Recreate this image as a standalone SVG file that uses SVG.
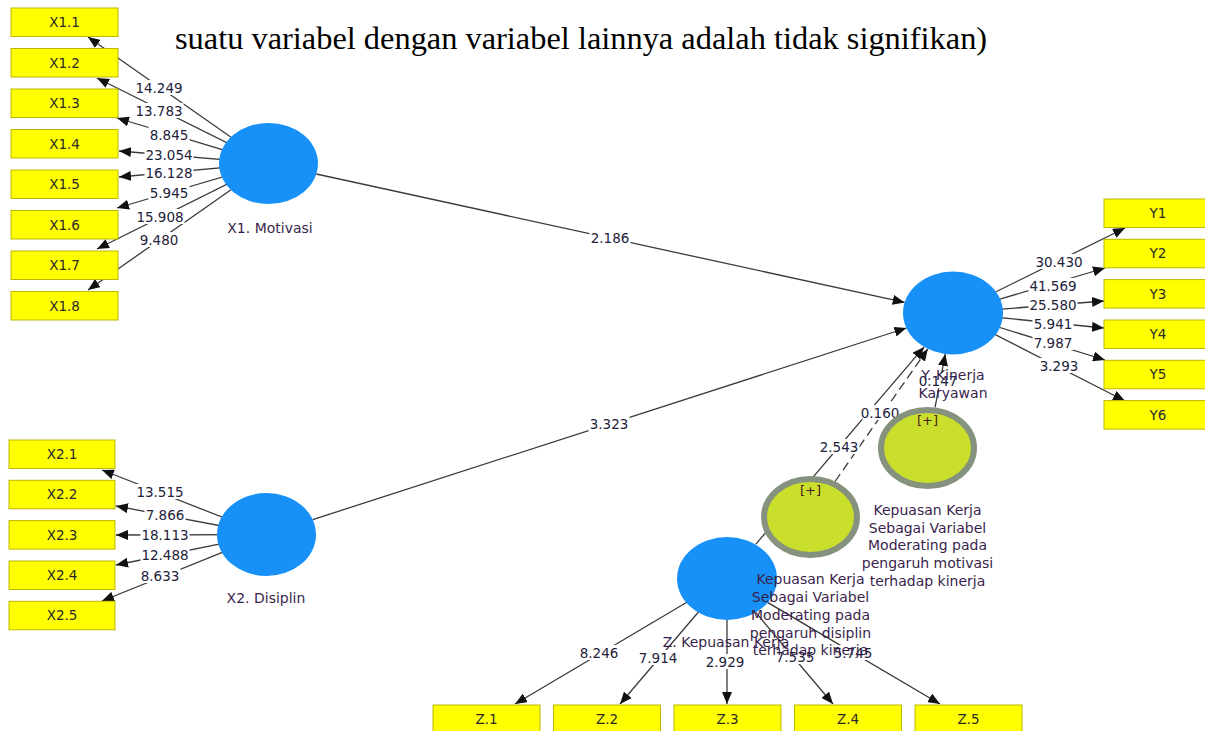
<svg xmlns="http://www.w3.org/2000/svg" width="1205" height="731" viewBox="0 0 1205 731">
<defs>
<marker id="arr" viewBox="0 0 12 10" refX="12" refY="5" markerWidth="12" markerHeight="10" markerUnits="userSpaceOnUse" orient="auto">
<path d="M0,0 L12,5 L0,10 z" fill="#111"/>
</marker>
</defs>
<style>
.bg{fill:#ffffff}
.nb{fill:#ffffff;height:15px}
.ln{stroke:#3a3a3a;stroke-width:1.3;fill:none;marker-end:url(#arr)}
.dash{stroke-dasharray:9,5}
.num{font-family:"DejaVu Sans",sans-serif;font-size:13.5px;fill:#22223a;text-anchor:middle}
.box{fill:#ffff00;stroke:#bdb700;stroke-width:1}
.bt{font-family:"DejaVu Sans",sans-serif;font-size:13.5px;fill:#2a2a2a;text-anchor:middle}
.lat{fill:#1790f7}
.mod{fill:#cadf2b;stroke:#85927e;stroke-width:6}
.lbl{font-family:"DejaVu Sans",sans-serif;font-size:14px;fill:#3a1f4c;text-anchor:middle}
.plus{font-family:"DejaVu Sans",sans-serif;font-size:13px;fill:#4a1a1a;text-anchor:middle}
.title{font-family:"Liberation Serif","Times New Roman",serif;font-size:32.4px;fill:#000}
</style>
<rect class="bg" x="0" y="0" width="1205" height="731"/>
<text class="title" x="175" y="49">suatu variabel dengan variabel lainnya adalah tidak signifikan)</text>

<g id="connectors">
<line class="ln" x1="268.5" y1="163.5" x2="88" y2="37"/>
<line class="ln" x1="268.5" y1="163.5" x2="97" y2="78"/>
<line class="ln" x1="268.5" y1="163.5" x2="117" y2="118"/>
<line class="ln" x1="268.5" y1="163.5" x2="119" y2="151"/>
<line class="ln" x1="268.5" y1="163.5" x2="119" y2="177"/>
<line class="ln" x1="268.5" y1="163.5" x2="117" y2="208"/>
<line class="ln" x1="268.5" y1="163.5" x2="97" y2="249"/>
<line class="ln" x1="268.5" y1="163.5" x2="88" y2="290"/>
<line class="ln" x1="266.5" y1="534.5" x2="102" y2="470"/>
<line class="ln" x1="266.5" y1="534.5" x2="116" y2="506"/>
<line class="ln" x1="266.5" y1="534.5" x2="116" y2="535"/>
<line class="ln" x1="266.5" y1="534.5" x2="116" y2="565"/>
<line class="ln" x1="266.5" y1="534.5" x2="102" y2="601"/>
<line class="ln" x1="953" y1="313" x2="1125" y2="228"/>
<line class="ln" x1="953" y1="313" x2="1105" y2="268"/>
<line class="ln" x1="953" y1="313" x2="1104" y2="301"/>
<line class="ln" x1="953" y1="313" x2="1104" y2="328"/>
<line class="ln" x1="953" y1="313" x2="1105" y2="360"/>
<line class="ln" x1="953" y1="313" x2="1125" y2="401"/>
<line class="ln" x1="727" y1="578.5" x2="515" y2="704"/>
<line class="ln" x1="727" y1="578.5" x2="620" y2="704"/>
<line class="ln" x1="727" y1="578.5" x2="727" y2="704"/>
<line class="ln" x1="727" y1="578.5" x2="833" y2="704"/>
<line class="ln" x1="727" y1="578.5" x2="940" y2="704"/>
<line class="ln" x1="316.3" y1="174" x2="904.7" y2="302.4"/>
<line class="ln" x1="312.7" y1="519.6" x2="906.4" y2="328"/>
<line class="ln" x1="755.9" y1="544.1" x2="924.1" y2="346.9"/>
<line class="ln dash" x1="835" y1="481.5" x2="927.8" y2="348.9"/>
<line class="ln" x1="935" y1="407.5" x2="945.3" y2="354"/>

<rect class="nb" x="134.5" y="80" width="49" height="15"/><text class="num" x="159" y="93">14.249</text>
<rect class="nb" x="134.5" y="103" width="49" height="15"/><text class="num" x="159" y="116">13.783</text>
<rect class="nb" x="148.5" y="127" width="41" height="15"/><text class="num" x="169" y="140">8.845</text>
<rect class="nb" x="144.5" y="147" width="49" height="15"/><text class="num" x="169" y="160">23.054</text>
<rect class="nb" x="144.5" y="165" width="49" height="15"/><text class="num" x="169" y="178">16.128</text>
<rect class="nb" x="148.5" y="185" width="41" height="15"/><text class="num" x="169" y="198">5.945</text>
<rect class="nb" x="135.5" y="209" width="49" height="15"/><text class="num" x="160" y="222">15.908</text>
<rect class="nb" x="138.5" y="232" width="41" height="15"/><text class="num" x="159" y="245">9.480</text>

<rect class="nb" x="135.5" y="484" width="49" height="15"/><text class="num" x="160" y="497">13.515</text>
<rect class="nb" x="144.5" y="507" width="41" height="15"/><text class="num" x="165" y="520">7.866</text>
<rect class="nb" x="140.5" y="527" width="49" height="15"/><text class="num" x="165" y="540">18.113</text>
<rect class="nb" x="140.5" y="547" width="49" height="15"/><text class="num" x="165" y="560">12.488</text>
<rect class="nb" x="139.5" y="568" width="41" height="15"/><text class="num" x="160" y="581">8.633</text>

<rect class="nb" x="1034.5" y="254" width="49" height="15"/><text class="num" x="1059" y="267">30.430</text>
<rect class="nb" x="1028.5" y="278" width="49" height="15"/><text class="num" x="1053" y="291">41.569</text>
<rect class="nb" x="1028.5" y="297" width="49" height="15"/><text class="num" x="1053" y="310">25.580</text>
<rect class="nb" x="1032.5" y="316" width="41" height="15"/><text class="num" x="1053" y="329">5.941</text>
<rect class="nb" x="1032.5" y="335" width="41" height="15"/><text class="num" x="1053" y="348">7.987</text>
<rect class="nb" x="1038.5" y="358" width="41" height="15"/><text class="num" x="1059" y="371">3.293</text>

<rect class="nb" x="578.5" y="645" width="41" height="15"/><text class="num" x="599" y="658">8.246</text>
<rect class="nb" x="637.5" y="650" width="41" height="15"/><text class="num" x="658" y="663">7.914</text>
<rect class="nb" x="704.5" y="654" width="41" height="15"/><text class="num" x="725" y="667">2.929</text>
<rect class="nb" x="774.5" y="649" width="41" height="15"/><text class="num" x="795" y="662">7.535</text>
<rect class="nb" x="832.5" y="645" width="41" height="15"/><text class="num" x="853" y="658">5.745</text>

<rect class="nb" x="589.5" y="230" width="41" height="15"/><text class="num" x="610" y="243">2.186</text>
<rect class="nb" x="588.5" y="416" width="41" height="15"/><text class="num" x="609" y="429">3.323</text>
<rect class="nb" x="818.5" y="439" width="41" height="15"/><text class="num" x="839" y="452">2.543</text>
<rect class="nb" x="862.5" y="405" width="35" height="15"/><text class="num" x="880" y="418">0.160</text>
<rect class="nb" x="920.5" y="373" width="35" height="15"/><text class="num" x="938" y="386">0.147</text>
</g>

<g id="X1.1"><rect class="box" x="11" y="8" width="107" height="28.5"/><text class="bt" x="64.5" y="27">X1.1</text></g>
<g id="X1.2"><rect class="box" x="11" y="48.5" width="107" height="28.5"/><text class="bt" x="64.5" y="67.5">X1.2</text></g>
<g id="X1.3"><rect class="box" x="11" y="89" width="107" height="28.5"/><text class="bt" x="64.5" y="108">X1.3</text></g>
<g id="X1.4"><rect class="box" x="11" y="129.5" width="107" height="28.5"/><text class="bt" x="64.5" y="148.5">X1.4</text></g>
<g id="X1.5"><rect class="box" x="11" y="170" width="107" height="28.5"/><text class="bt" x="64.5" y="189">X1.5</text></g>
<g id="X1.6"><rect class="box" x="11" y="210.5" width="107" height="28.5"/><text class="bt" x="64.5" y="229.5">X1.6</text></g>
<g id="X1.7"><rect class="box" x="11" y="251" width="107" height="28.5"/><text class="bt" x="64.5" y="270">X1.7</text></g>
<g id="X1.8"><rect class="box" x="11" y="291.5" width="107" height="28.5"/><text class="bt" x="64.5" y="310.5">X1.8</text></g>

<g id="X2.1"><rect class="box" x="9" y="440" width="106" height="28.5"/><text class="bt" x="62" y="459">X2.1</text></g>
<g id="X2.2"><rect class="box" x="9" y="480.3" width="106" height="28.5"/><text class="bt" x="62" y="499.3">X2.2</text></g>
<g id="X2.3"><rect class="box" x="9" y="520.6" width="106" height="28.5"/><text class="bt" x="62" y="539.6">X2.3</text></g>
<g id="X2.4"><rect class="box" x="9" y="561" width="106" height="28.5"/><text class="bt" x="62" y="580">X2.4</text></g>
<g id="X2.5"><rect class="box" x="9" y="601.3" width="106" height="28.5"/><text class="bt" x="62" y="620.3">X2.5</text></g>

<g id="Y1"><rect class="box" x="1104" y="199" width="108" height="28.5"/><text class="bt" x="1158" y="218">Y1</text></g>
<g id="Y2"><rect class="box" x="1104" y="239.3" width="108" height="28.5"/><text class="bt" x="1158" y="258.3">Y2</text></g>
<g id="Y3"><rect class="box" x="1104" y="279.6" width="108" height="28.5"/><text class="bt" x="1158" y="298.6">Y3</text></g>
<g id="Y4"><rect class="box" x="1104" y="320" width="108" height="28.5"/><text class="bt" x="1158" y="339">Y4</text></g>
<g id="Y5"><rect class="box" x="1104" y="360.3" width="108" height="28.5"/><text class="bt" x="1158" y="379.3">Y5</text></g>
<g id="Y6"><rect class="box" x="1104" y="400.6" width="108" height="28.5"/><text class="bt" x="1158" y="419.6">Y6</text></g>

<g id="Z.1"><rect class="box" x="433" y="705" width="107" height="28.5"/><text class="bt" x="486.5" y="724">Z.1</text></g>
<g id="Z.2"><rect class="box" x="553.5" y="705" width="107" height="28.5"/><text class="bt" x="607" y="724">Z.2</text></g>
<g id="Z.3"><rect class="box" x="674" y="705" width="107" height="28.5"/><text class="bt" x="727.5" y="724">Z.3</text></g>
<g id="Z.4"><rect class="box" x="794.5" y="705" width="107" height="28.5"/><text class="bt" x="848" y="724">Z.4</text></g>
<g id="Z.5"><rect class="box" x="915" y="705" width="107" height="28.5"/><text class="bt" x="968.5" y="724">Z.5</text></g>

<g id="X1"><ellipse class="lat" cx="268.5" cy="163.5" rx="49.5" ry="40.5"/><text class="lbl" x="270" y="233">X1. Motivasi</text></g>
<g id="X2"><ellipse class="lat" cx="266.5" cy="534.5" rx="49.5" ry="41.5"/><text class="lbl" x="266" y="603">X2. Disiplin</text></g>
<g id="Y"><ellipse class="lat" cx="953" cy="313" rx="50" ry="41.5"/><text class="lbl" x="953" y="380">Y. Kinerja</text><text class="lbl" x="953" y="398">Karyawan</text></g>
<g id="Z"><ellipse class="lat" cx="727" cy="578.5" rx="50" ry="41.5"/><text class="lbl" x="726" y="647">Z. Kepuasan Kerja</text></g>

<g id="M1">
<ellipse class="mod" cx="927.5" cy="448" rx="46.5" ry="38"/>
<text class="plus" x="927.5" y="425">[+]</text>
<text class="lbl" x="927.5" y="515">Kepuasan Kerja</text>
<text class="lbl" x="927.5" y="532.5">Sebagai Variabel</text>
<text class="lbl" x="927.5" y="550">Moderating pada</text>
<text class="lbl" x="927.5" y="568">pengaruh motivasi</text>
<text class="lbl" x="927.5" y="586">terhadap kinerja</text>
</g>
<g id="M2">
<ellipse class="mod" cx="810.5" cy="517" rx="46.5" ry="38"/>
<text class="plus" x="810.5" y="495">[+]</text>
<text class="lbl" x="810.5" y="584">Kepuasan Kerja</text>
<text class="lbl" x="810.5" y="602">Sebagai Variabel</text>
<text class="lbl" x="810.5" y="620">Moderating pada</text>
<text class="lbl" x="810.5" y="638">pengaruh disiplin</text>
<text class="lbl" x="810.5" y="655">terhadap kinerja</text>
</g>
</svg>
